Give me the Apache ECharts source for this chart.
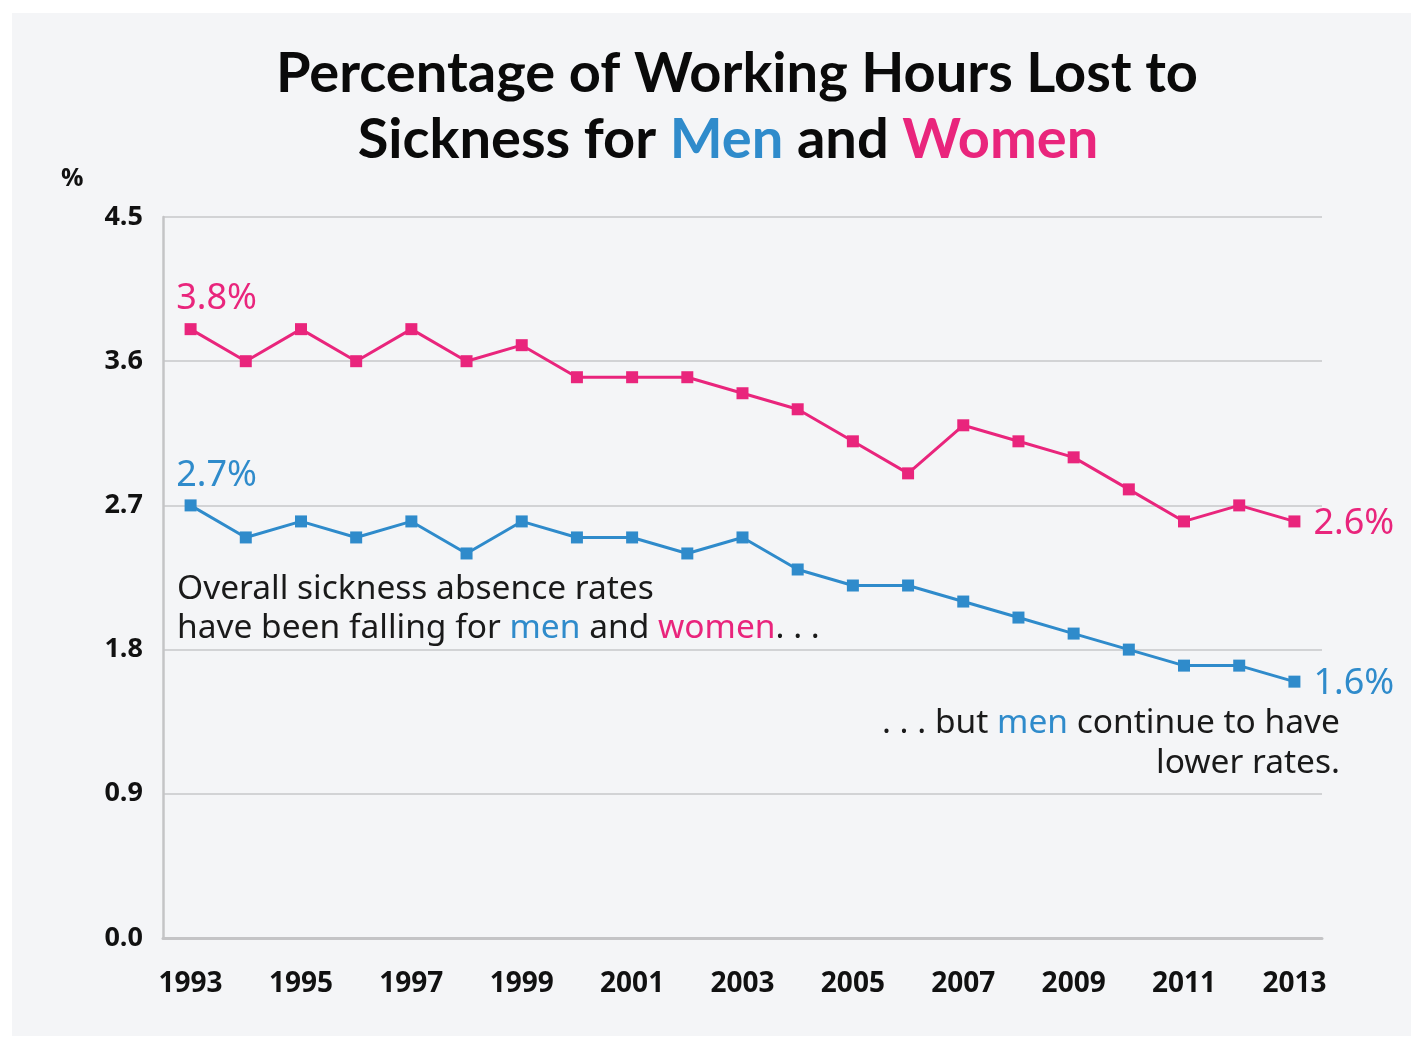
<!DOCTYPE html>
<html>
<head>
<meta charset="utf-8">
<script src="https://cdn.jsdelivr.net/npm/echarts@6/dist/echarts.min.js"></script>
<style>html,body{margin:0;padding:0;background:#fff}#c{width:1411px;height:1048px}</style>
</head>
<body>
<div id="c"></div>
<script>
const years = ['1993','1994','1995','1996','1997','1998','1999','2000','2001','2002','2003','2004','2005','2006','2007','2008','2009','2010','2011','2012','2013'];
const women = [3.8,3.6,3.8,3.6,3.8,3.6,3.7,3.5,3.5,3.5,3.4,3.3,3.1,2.9,3.2,3.1,3.0,2.8,2.6,2.7,2.6];
const men = [2.7,2.5,2.6,2.5,2.6,2.4,2.6,2.5,2.5,2.4,2.5,2.3,2.2,2.2,2.1,2.0,1.9,1.8,1.7,1.7,1.6];
const yTicks = [0, 0.9, 1.8, 2.7, 3.6, 4.5];

const PINK = '#e9257c';
const BLUE = '#2f8bcb';
const FONT = '"Open Sans", "Noto Sans", sans-serif';
const HFONT = 'Lato, "Open Sans", sans-serif';
const TFONT = '"Noto Sans", "DejaVu Sans", sans-serif';

function withEndLabels(arr, color) {
  const last = arr.length - 1;
  return arr.map((v, i) => {
    if (i === 0) return {value: v, label: {show: true, position: 'top', distance: 6, offset: [26, 0], formatter: v.toFixed(1) + '%', color: color, fontSize: 36, fontFamily: TFONT}};
    if (i === last) return {value: v, label: {show: true, position: 'right', distance: 13, offset: [0, 2], formatter: v.toFixed(1) + '%', color: color, fontSize: 36, fontFamily: TFONT}};
    return v;
  });
}

const chart = echarts.init(document.getElementById('c'), null, {renderer: 'canvas'});
chart.setOption({
  backgroundColor: '#ffffff',
  animation: false,
  graphic: [
    {type: 'rect', z: -10, shape: {x: 12, y: 13, width: 1399, height: 1023}, style: {fill: '#f4f5f7'}},
    {type: 'text', x: 737, y: 46, style: {
      text: 'Percentage of Working Hours Lost to', align: 'center',
      fontFamily: HFONT, fontWeight: 'bold', fontSize: 56, fill: '#0a0a0a'}},
    {type: 'text', x: 728, y: 112, style: {
      text: '{b|Sickness for }{m|Men}{b| and }{w|Women}', align: 'center',
      rich: {
        b: {fontFamily: HFONT, fontWeight: 'bold', fontSize: 56, fill: '#0a0a0a'},
        m: {fontFamily: HFONT, fontWeight: 'bold', fontSize: 56, fill: BLUE},
        w: {fontFamily: HFONT, fontWeight: 'bold', fontSize: 56, fill: PINK}
      }}},
    {type: 'text', left: 61, top: 166, style: {text: '%', fontFamily: FONT, fontWeight: 'bold', fontSize: 25, fill: '#111'}},
    {type: 'text', left: 177, top: 572, style: {
      text: '{t|Overall sickness absence rates}\n{t|have been falling for }{m|men}{t| and }{w|women}{t|. . .}',
      rich: {
        t: {fontFamily: TFONT, fontSize: 33.5, fill: '#1a1a1a', lineHeight: 39},
        m: {fontFamily: TFONT, fontSize: 33.5, fill: BLUE, lineHeight: 39},
        w: {fontFamily: TFONT, fontSize: 33.5, fill: PINK, lineHeight: 39}
      }}},
    {type: 'text', x: 1340, y: 703, style: {
      text: '{t|. . . but }{m|men}{t| continue to have}\n{t|lower rates.}',
      align: 'right',
      rich: {
        t: {fontFamily: TFONT, fontSize: 33.5, fill: '#1a1a1a', lineHeight: 40, align: 'right'},
        m: {fontFamily: TFONT, fontSize: 33.5, fill: BLUE, lineHeight: 40, align: 'right'}
      }}}
  ],
  grid: {left: 163, right: 89, top: 217, bottom: 110, containLabel: false},
  xAxis: {
    type: 'category',
    data: years,
    boundaryGap: true,
    axisLine: {show: true, lineStyle: {color: '#c4c4c6', width: 3}},
    axisTick: {show: false},
    axisLabel: {interval: 1, margin: 32, color: '#111', fontSize: 28, fontWeight: 'bold', fontFamily: FONT},
    splitLine: {show: false}
  },
  yAxis: {
    type: 'value',
    min: yTicks[0],
    max: yTicks[yTicks.length - 1],
    interval: 0.9,
    axisLine: {show: true, lineStyle: {color: '#c4c4c6', width: 2.5}},
    axisTick: {show: false},
    axisLabel: {margin: 20, color: '#111', fontSize: 27, fontWeight: 'bold', fontFamily: FONT,
      formatter: v => v.toFixed(1)},
    splitLine: {show: true, lineStyle: {color: '#d2d3d5', width: 2}}
  },
  series: [
    {type: 'line', name: 'Women', data: withEndLabels(women, PINK),
      symbol: 'rect', symbolSize: 12, lineStyle: {color: PINK, width: 3}, itemStyle: {color: PINK}},
    {type: 'line', name: 'Men', data: withEndLabels(men, BLUE),
      symbol: 'rect', symbolSize: 12, lineStyle: {color: BLUE, width: 3}, itemStyle: {color: BLUE}}
  ]
});
</script>
</body>
</html>
